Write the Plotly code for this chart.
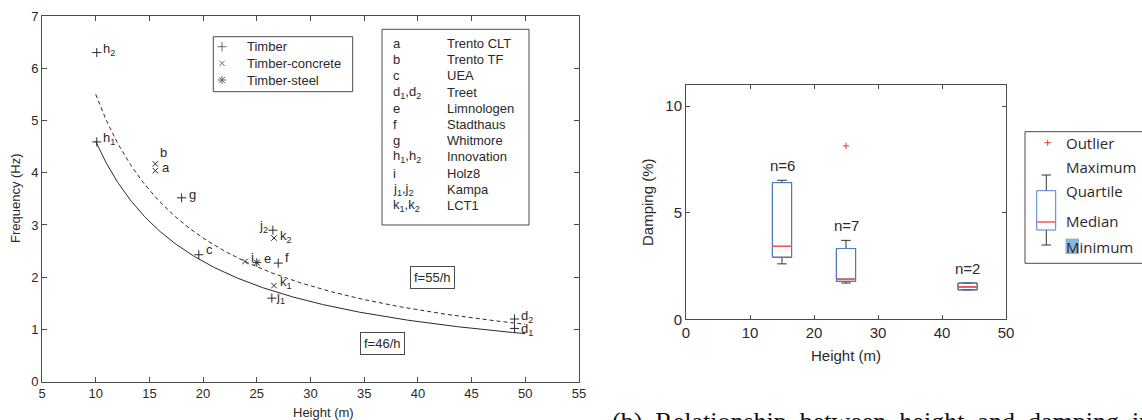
import numpy as np
import plotly.graph_objects as go

W, H = 1142, 420

# ---- Panel (a): natural frequency vs building height ----
timber_h = [10.1, 10.1, 18.0, 19.6, 27.0, 26.5, 26.4, 49.0, 49.0]
timber_f = [6.30, 4.59, 3.52, 2.43, 2.27, 2.90, 1.60, 1.20, 1.02]
timber_lbl = ["h<sub>2</sub>", "h<sub>1</sub>", "g", "c", "f",
              "j<sub>2</sub>", "j<sub>1</sub>", "d<sub>2</sub>", "d<sub>1</sub>"]

concrete_h = [15.55, 15.55, 23.9, 26.6, 26.6]
concrete_f = [4.17, 4.04, 2.30, 2.75, 1.84]
concrete_lbl = ["b", "a", "i", "k<sub>2</sub>", "k<sub>1</sub>"]

steel_h = [25.0]
steel_f = [2.28]
steel_lbl = ["e"]

# f = C / h reference curves
fit_lower = 46
fit_upper = 55
fit_span = (10, 50)

# building key
key_codes = ["a", "b", "c", "d<sub>1</sub>,d<sub>2</sub>", "e", "f", "g",
             "h<sub>1</sub>,h<sub>2</sub>", "i", "j<sub>1</sub>,j<sub>2</sub>",
             "k<sub>1</sub>,k<sub>2</sub>"]
key_names = ["Trento CLT", "Trento TF", "UEA", "Treet", "Limnologen", "Stadthaus",
             "Whitmore", "Innovation", "Holz8", "Kampa", "LCT1"]
material_names = ["Timber", "Timber-concrete", "Timber-steel"]

# ---- Panel (b): damping vs height ----
box_height = [15, 25, 44]
box_min = [2.60, 1.70, 1.38]
box_q1 = [2.91, 1.78, 1.38]
box_med = [3.42, 1.88, 1.52]
box_q3 = [6.41, 3.32, 1.70]
box_max = [6.52, 3.70, 1.70]
box_n = [6, 7, 2]
outlier_h = [25]
outlier_d = [8.13]
box_key = ["Outlier", "Maximum", "Quartile", "Median", "Minimum"]


def px(x):
    return x / W


def py(y):
    return 1 - y / H


INK = "#2a2a2a"
FRAME = "#4a4a4a"
SANS = "Liberation Sans, Arial, sans-serif"
BLUE = "#4f7fd1"
RED = "#f05a5a"

fig = go.Figure()

# reference curves
hh = np.linspace(fit_span[0], fit_span[1], 300)
fig.add_trace(go.Scatter(x=hh, y=fit_lower / hh, mode="lines",
                         line=dict(color=INK, width=1), xaxis="x", yaxis="y"))
fig.add_trace(go.Scatter(x=hh, y=fit_upper / hh, mode="lines",
                         line=dict(color=INK, width=1, dash="4px,3px"),
                         xaxis="x", yaxis="y"))

# measured buildings
mk = dict(color=INK, line=dict(color=INK, width=1))
fig.add_trace(go.Scatter(x=timber_h, y=timber_f, mode="markers", xaxis="x", yaxis="y",
                         marker=dict(symbol="cross-thin", size=6.5, **mk)))
fig.add_trace(go.Scatter(x=concrete_h, y=concrete_f, mode="markers", xaxis="x", yaxis="y",
                         marker=dict(symbol="x-thin", size=5.5, **mk)))
fig.add_trace(go.Scatter(x=steel_h, y=steel_f, mode="markers", xaxis="x", yaxis="y",
                         marker=dict(symbol="asterisk", size=7, **mk)))

# damping boxes: whiskers (dark), box outline (blue), median (red)
fig.add_trace(go.Box(x=box_height, q1=box_q1, median=box_med, q3=box_q3,
                     lowerfence=box_min, upperfence=box_max, width=3,
                     whiskerwidth=0.5, boxpoints=False, fillcolor="rgba(0,0,0,0)",
                     line=dict(color="#333333", width=1), xaxis="x2", yaxis="y2"))
fig.add_trace(go.Box(x=box_height, q1=box_q1, median=box_med, q3=box_q3,
                     lowerfence=box_q1, upperfence=box_q3, width=3,
                     whiskerwidth=0.0, boxpoints=False, fillcolor="rgba(0,0,0,0)",
                     line=dict(color=BLUE, width=1), xaxis="x2", yaxis="y2"))
fig.add_trace(go.Box(x=box_height, q1=box_med, median=box_med, q3=box_med,
                     lowerfence=box_med, upperfence=box_med, width=3,
                     whiskerwidth=0.0, boxpoints=False, fillcolor="rgba(0,0,0,0)",
                     line=dict(color=RED, width=1), xaxis="x2", yaxis="y2"))
fig.add_trace(go.Scatter(x=outlier_h, y=outlier_d, mode="markers", xaxis="x2", yaxis="y2",
                         marker=dict(symbol="cross-thin", size=4.5, color="#ff3030",
                                     line=dict(color="#ff3030", width=1))))

# legend glyphs, placed on a pixel-scaled overlay axis
fig.add_trace(go.Scatter(x=[222, 222, 222], y=[46.7, 63.3, 80], mode="markers",
                         xaxis="x3", yaxis="y3",
                         marker=dict(symbol=["cross-thin", "x-thin", "asterisk"],
                                     size=[6.5, 5.5, 7], **mk)))
fig.add_trace(go.Scatter(x=[1047.7], y=[142.7], mode="markers", xaxis="x3", yaxis="y3",
                         marker=dict(symbol="cross-thin", size=4.5, color="#ff3030",
                                     line=dict(color="#ff3030", width=1))))

ann = []
shapes = []


def text(x, y, s, size=13, family=SANS, xanchor="center", yanchor="middle", **kw):
    ann.append(dict(x=x, y=y, xref="paper", yref="paper", text=s, showarrow=False,
                    xanchor=xanchor, yanchor=yanchor,
                    font=dict(family=family, size=size, color=kw.pop("color", INK)), **kw))


# point labels (pixel offsets from each marker)
label_shift = {
    "h<sub>2</sub>": (4, 3, "left"), "h<sub>1</sub>": (4, 3, "left"),
    "g": (5, 3, "left"), "c": (5, 5, "left"), "f": (5, 6, "left"),
    "j<sub>2</sub>": (-3, 4, "right"), "j<sub>1</sub>": (2, 1, "left"),
    "d<sub>2</sub>": (4, 3, "left"), "d<sub>1</sub>": (4, -1, "left"),
    "b": (3, 11, "left"), "a": (5, 3, "left"), "i": (4, 4, "left"),
    "k<sub>2</sub>": (4, 2, "left"), "k<sub>1</sub>": (4, 3, "left"),
    "e": (5, 4, "left"),
}
for hs, fs, ls in [(timber_h, timber_f, timber_lbl),
                   (concrete_h, concrete_f, concrete_lbl),
                   (steel_h, steel_f, steel_lbl)]:
    for h, f, t in zip(hs, fs, ls):
        dx, dy, anc = label_shift[t]
        ann.append(dict(x=h, y=f, xref="x", yref="y", text=t, showarrow=False,
                        xanchor=anc, yanchor="middle", xshift=dx, yshift=dy,
                        font=dict(family=SANS, size=13, color=INK)))

# curve labels
for txt, h, f in [(f"f={fit_upper}/h", 41.4, 2.0), (f"f={fit_lower}/h", 36.66, 0.74)]:
    ann.append(dict(x=h, y=f, xref="x", yref="y", text=txt, showarrow=False,
                    xanchor="center", yanchor="middle",
                    font=dict(family=SANS, size=13, color=INK), bgcolor="white",
                    bordercolor=FRAME, borderwidth=1, borderpad=3))

# material legend
shapes.append(dict(type="rect", xref="paper", yref="paper", x0=px(213.3), x1=px(352.7),
                   y0=py(91.7), y1=py(36.7), line=dict(color=FRAME, width=1)))
for k, name in enumerate(material_names):
    text(px(244.5), py(46.7 + 16.7 * k), name, xanchor="left")

# building key
shapes.append(dict(type="rect", xref="paper", yref="paper", x0=px(382), x1=px(529),
                   y0=py(225), y1=py(29.3), line=dict(color=FRAME, width=1)))
for k, (code, name) in enumerate(zip(key_codes, key_names)):
    yy = py(43.3 + 16.24 * k)
    text(px(390.5), yy, code, xanchor="left")
    text(px(444.5), yy, name, xanchor="left")

# axis titles, panel (a)
text(px(15), py(198), "Frequency (Hz)", textangle=-90)
text(px(323), py(412), "Height (m)")

# axis titles, panel (b)
text(px(647), py(202), "Damping (%)", size=15, textangle=-90)
text(px(846), py(355), "Height (m)", size=15)

# sample sizes above each box
for h, top, n in zip(box_height, box_max, box_n):
    ann.append(dict(x=h, y=top, xref="x2", yref="y2", text=f"n={n}", showarrow=False,
                    xanchor="center", yanchor="bottom", yshift=4,
                    font=dict(family=SANS, size=15, color=INK)))

# box-plot key
KEYFONT = "Open Sans, Noto Sans, sans-serif"
shapes.append(dict(type="rect", xref="paper", yref="paper", x0=px(1025), x1=px(1160),
                   y0=py(263.3), y1=py(131.7), line=dict(color=FRAME, width=1)))
shapes.append(dict(type="rect", xref="paper", yref="paper", x0=px(1065.5), x1=px(1079),
                   y0=py(254), y1=py(238.5), line=dict(width=0), fillcolor="#8db6de"))
seg = [((1046.3, 175), (1046.3, 190.7)), ((1041.5, 175), (1051, 175)),
       ((1046.3, 230), (1046.3, 245)), ((1041.5, 245), (1051, 245))]
for (x0, y0), (x1, y1) in seg:
    shapes.append(dict(type="line", xref="paper", yref="paper", x0=px(x0), x1=px(x1),
                       y0=py(y0), y1=py(y1), line=dict(color="#333333", width=1)))
shapes.append(dict(type="rect", xref="paper", yref="paper", x0=px(1036.7), x1=px(1055.7),
                   y0=py(230), y1=py(190.7), line=dict(color=BLUE, width=1)))
shapes.append(dict(type="line", xref="paper", yref="paper", x0=px(1036.7), x1=px(1055.7),
                   y0=py(222), y1=py(222), line=dict(color=RED, width=1.5)))
for name, yk in zip(box_key, [142.7, 167, 190.7, 221, 246.7]):
    text(px(1063.5), py(yk), name, size=15, family=KEYFONT, xanchor="left")

# sub-figure caption (runs past the bottom edge)
text(px(610), py(405), "(b)  Relationship  between  height  and  damping  in",
     size=26, family="Liberation Serif, Times New Roman, serif",
     xanchor="left", yanchor="top", color="#111111")

axis_common = dict(showline=True, mirror="ticks", linecolor=FRAME, linewidth=1,
                   ticks="inside", tickcolor=FRAME, showgrid=False, zeroline=False)

fig.update_layout(
    width=W, height=H, margin=dict(l=0, r=0, t=0, b=0, autoexpand=False),
    paper_bgcolor="white", plot_bgcolor="rgba(0,0,0,0)",
    showlegend=False, boxmode="overlay",
    xaxis=dict(domain=[px(42), px(579)], range=[5, 55], dtick=5, tick0=5, ticklen=5,
               anchor="y", tickfont=dict(family=SANS, size=13, color=INK), **axis_common),
    yaxis=dict(domain=[py(381.7), py(16)], range=[0, 7], dtick=1, ticklen=5,
               anchor="x", tickfont=dict(family=SANS, size=13, color=INK), **axis_common),
    xaxis2=dict(domain=[px(686), px(1006)], range=[0, 50], dtick=10, ticklen=4,
                anchor="y2", tickfont=dict(family=SANS, size=15, color=INK), **axis_common),
    yaxis2=dict(domain=[py(319.3), py(84.7)], range=[0, 11], tickvals=[0, 5, 10], ticklen=4,
                anchor="x2", tickfont=dict(family=SANS, size=15, color=INK), **axis_common),
    xaxis3=dict(domain=[0, 1], range=[0, W], visible=False, anchor="y3", fixedrange=True),
    yaxis3=dict(domain=[0, 1], range=[H, 0], visible=False, anchor="x3", fixedrange=True),
    annotations=ann, shapes=shapes,
)

fig.write_html("out.html")
